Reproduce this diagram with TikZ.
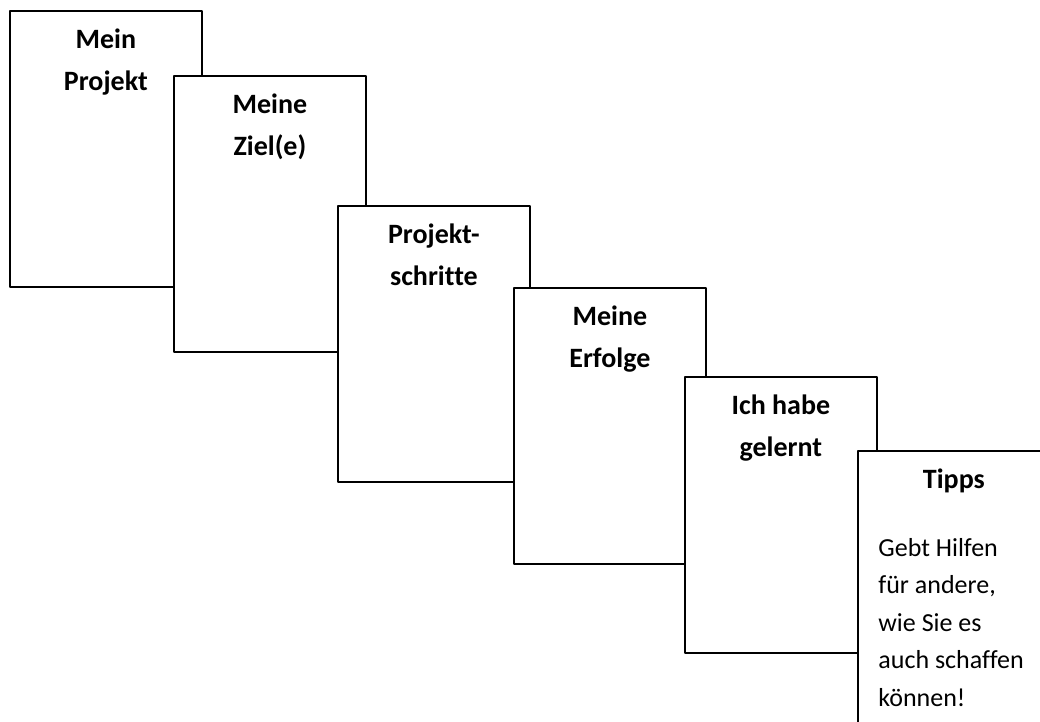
\documentclass[tikz,border=0pt]{standalone}
\usepackage{fontspec}
\setmainfont{Carlito}[Ligatures=NoCommon]
\usetikzlibrary{positioning,calc}

\tikzset{
  card/.style={draw,fill=white,line width=0.9pt,anchor=north west,
    minimum width=96pt,minimum height=138pt,inner sep=0pt},
  cardtitle/.style={font=\fontsize{14}{21}\selectfont\bfseries,align=center,inner sep=0pt},
  cardtext/.style={font=\fontsize{13}{18.75}\selectfont,align=left,inner sep=0pt}
}

\begin{document}
\begin{tikzpicture}[x=0.5pt,y=0.5pt,line cap=round,line join=round]
  % canvas
  \useasboundingbox (0,0) rectangle (1040,722);
  \clip (0,0) rectangle (1040,722);

  % cards (top left corners, later ones lie on top)
  \node[card] (mein)   at (9,712)   {};
  \node[card] (ziel)   at (173,647) {};
  \node[card] (schritt) at (337,517) {};
  \node[card] (erfolg) at (513,435) {};
  \node[card] (gelernt) at (684,346) {};
  \node[card] (tipps)  at (857,272) {};

  % titles
  \node[cardtitle,below=4.5pt of mein.north]    {\strut Mein\\Projekt};
  \node[cardtitle,below=4.5pt of ziel.north]    {\strut Meine\\Ziel(e)};
  \node[cardtitle,below=4.5pt of schritt.north] {\strut Projekt-\\schritte};
  \node[cardtitle,below=4.5pt of erfolg.north]  {\strut Meine\\Erfolge};
  \node[cardtitle,below=4.5pt of gelernt.north] {\strut Ich habe\\gelernt};
  \node[cardtitle,below=4.5pt of tipps.north]   {\strut Tipps};

  % tip text
  \node[cardtext,anchor=north west] (tipptext) at ($(tipps.north west)+(21,-79.8)$)
    {\strut Gebt Hilfen\\für andere,\\wie Sie es\\auch schaffen\\können!};
\end{tikzpicture}
\end{document}
